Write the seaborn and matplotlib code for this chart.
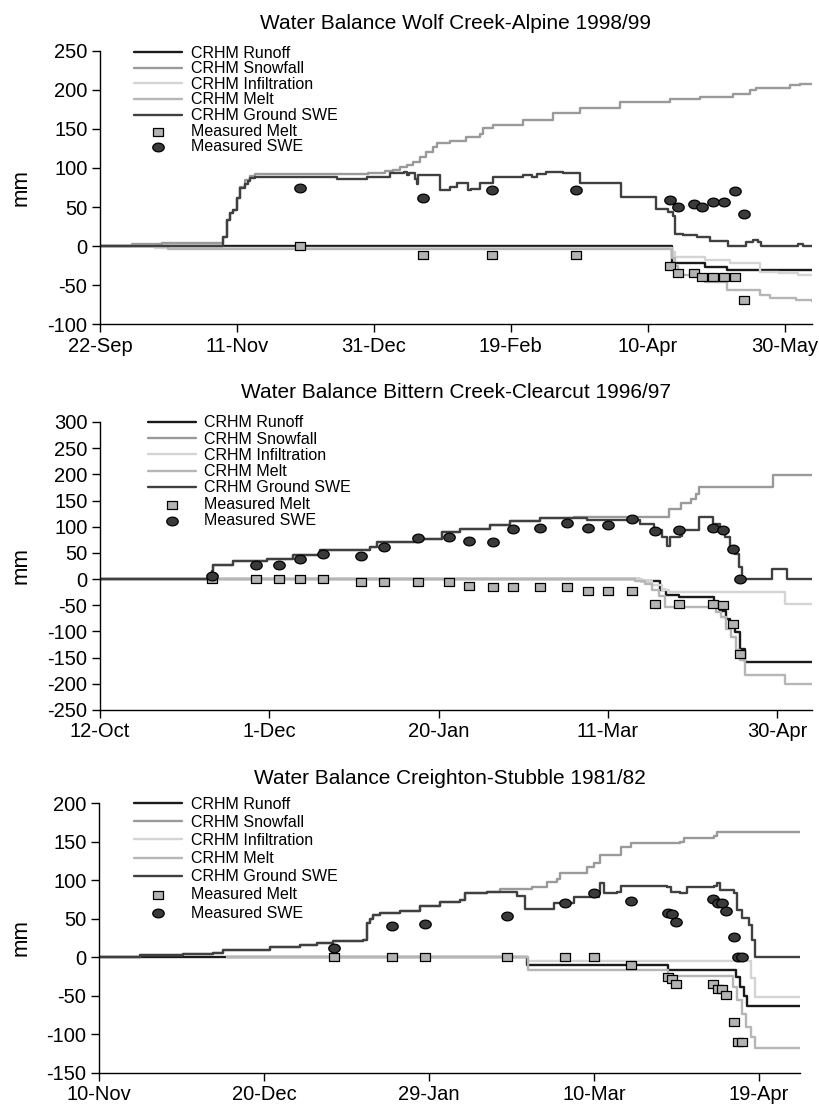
import numpy as np
import pandas as pd
import matplotlib
matplotlib.use("Agg")
import matplotlib.pyplot as plt
import matplotlib.dates as mdates
from matplotlib.path import Path
import seaborn as sns

# ---------------- Wolf Creek-Alpine 1998/99 (days after 22 Sep 1998) ----------------
wc_start = "1998-09-22"
wc_end_day = 260
wc_ticks = ["1998-09-22", "1998-11-11", "1998-12-31", "1999-02-19", "1999-04-10", "1999-05-30"]

wc_runoff_day = [0, 209, 221, 229, 260]
wc_runoff_mm = [0, -22, -27, -31, -31]

wc_snow_day = [0, 11.7, 22.6, 45, 46.2, 47.4, 48.5, 49.9, 51.1, 52.9, 54.7, 56.6, 86.5, 98, 104,
               107, 109.5, 112, 114.4, 116.8, 119, 121.7, 122.9, 127.7, 133.8, 138.7, 139.9, 143.5,
               154.5, 165.5, 175.2, 189.8, 208.1, 219, 231.1, 237.2, 239.7, 251.8, 255.5, 260]
wc_snow_mm = [0, 2, 4, 12, 33, 42, 46, 61, 76, 84, 90, 92, 92, 94, 96,
              98, 101, 104, 108, 114, 120, 127, 132, 134, 140, 144, 151, 155,
              162, 171, 177, 184, 188, 191, 195, 200, 203, 206, 208, 208]

wc_infil_day = [0, 20, 209, 210, 220.8, 229.9, 240.9, 248, 255, 260]
wc_infil_mm = [0, -3, -8, -14, -18, -22, -33, -35, -37, -37]

wc_melt_day = [0, 25, 209, 210, 211, 221, 229, 241, 244.5, 254, 260]
wc_melt_mm = [0, -4, -15, -25, -37, -46, -56, -63, -67, -69, -70]

wc_swe_day = [0, 45, 46.2, 47.4, 48.5, 49.9, 51.1, 52.9, 54, 54.7, 56.6, 86.5, 97.4, 106, 111,
              112, 113, 115, 115.6, 116.2, 124, 127.7, 130.2, 134.4, 135.5, 138.7, 143.5, 154.5,
              157.6, 159.4, 163, 169.1, 175.2, 190.4, 203.2, 207.5, 209.2, 209.9, 212.9, 218,
              222.6, 229.3, 236, 238.4, 240.3, 241.5, 254.9, 256.7, 260]
wc_swe_mm = [0, 12, 33, 42, 46, 61, 74, 80, 83, 87, 89, 86, 88, 93, 95,
             91, 94, 86, 80, 91, 72, 76, 81, 72, 73, 81, 88, 91,
             88, 92, 95, 93, 81, 63, 47, 44, 38, 16, 14, 11,
             7, 0, 5, 8, 5, 0, 2, 0, 0]

wc_meas_day = [73, 118, 143, 174, 208, 211, 217, 220, 224, 228, 232, 235]
wc_meas_melt = [0, -12, -12, -12, -25, -34, -34, -40, -40, -40, -40, -69]
wc_meas_swe = [75, 62, 72, 72, 59, 50, 54, 50, 57, 57, 70, 41]

# ---------------- Bittern Creek-Clearcut 1996/97 (days after 12 Oct 1996) ----------------
bc_start = "1996-10-12"
bc_end_day = 210.3
bc_ticks = ["1996-10-12", "1996-12-01", "1997-01-20", "1997-03-11", "1997-04-30"]

bc_runoff_day = [0, 159.5, 165.4, 167.2, 171, 181.4, 183, 184.9, 186, 187.6, 189, 190.5, 210.3]
bc_runoff_mm = [0, -4, -20, -30, -35, -44, -60, -76, -88, -101, -134, -158, -158]

bc_snow_day = [0, 32, 33, 33.4, 39.3, 49.3, 57, 65, 79.8, 81.8, 94, 100.9, 106.4, 115.2, 121.1,
               130, 140, 168.1, 171.5, 174.5, 176, 177, 198.9, 210.3]
bc_snow_mm = [0, 4, 15, 27, 34, 39, 46, 55, 61, 71, 77, 90, 96, 104, 111,
              117, 119, 134, 146, 153, 162, 176, 198, 198]

bc_infil_day = [0, 160, 163, 166, 168, 202.4, 210.3]
bc_infil_mm = [0, -4, -12, -20, -25, -47, -47]

bc_melt_day = [0, 158, 161, 163, 165, 167, 180.2, 182, 183.5, 185, 186.5, 188, 189, 190.5, 202.4, 210.3]
bc_melt_mm = [0, -3, -10, -20, -33, -53, -53, -62, -72, -95, -110, -136, -155, -183, -200, -200]

bc_swe_day = [0, 32, 33, 33.4, 39.3, 49.3, 57, 65, 79.8, 81.8, 94, 100.9, 106.4, 115.2, 121.1,
              130, 143.8, 157.6, 159.5, 163.5, 165.9, 167.4, 168.4, 171.3, 171.8, 176.8, 179.7,
              181.2, 183.2, 184.6, 186.1, 187.6, 188.6, 189.6, 198.4, 202.9, 210.3]
bc_swe_mm = [0, 4, 15, 27, 34, 39, 46, 55, 61, 71, 77, 90, 96, 104, 111,
             117, 113, 113, 106, 93, 80, 64, 80, 83, 93, 118, 118,
             106, 96, 80, 61, 48, 23, 0, 19, 0, 0]

bc_meas_day = [33, 46, 53, 59, 66, 77, 84, 94, 103, 109, 116, 122, 130, 138, 144, 150, 157, 164,
               171, 181, 184, 187, 189]
bc_meas_melt = [0, 0, 0, 0, 0, -6, -6, -6, -5, -13, -15, -15, -15, -15, -23, -23, -23, -47,
                -47, -47, -50, -86, -143]
bc_meas_swe = [6, 27, 27, 38, 47, 44, 62, 79, 80, 73, 71, 95, 97, 108, 97, 104, 115, 91,
               94, 97, 94, 57, 0]

# ---------------- Creighton-Stubble 1981/82 (days after 10 Nov 1981) ----------------
cs_start = "1981-11-10"
cs_end_day = 170
cs_ticks = ["1981-11-10", "1981-12-20", "1982-01-29", "1982-03-10", "1982-04-19"]

cs_runoff_day = [0, 103.8, 138, 154.5, 155.5, 156.3, 157.2, 170]
cs_runoff_mm = [0, -10, -16, -25, -38, -50, -63, -63]

cs_snow_day = [0, 5.8, 10, 20.4, 27.7, 30.1, 41.5, 48.8, 52.9, 56.8, 64.1, 65, 65.8, 66.5, 68.2,
               73.1, 77.9, 82.8, 87.6, 88.8, 94.1, 97.3, 105, 108.7, 111.1, 111.9, 118.4, 120,
               121.6, 126.5, 128.9, 141, 141.8, 149.1, 149.9, 170]
cs_snow_mm = [0, 1, 2.5, 4, 6, 9, 13, 15.5, 18.5, 21, 23, 44, 50, 55, 57,
              60, 67, 72, 74, 83, 85, 89, 91, 98, 102, 109, 117, 122,
              132, 143, 148, 150, 155, 157, 163, 163]

cs_infil_day = [31, 104, 158, 159, 170]
cs_infil_mm = [0, -5, -27, -52, -52]

cs_melt_day = [31, 104, 138, 153.8, 154.8, 156, 157, 158, 159, 170]
cs_melt_mm = [0, -16, -24, -38, -56, -73, -90, -103, -117, -117]

cs_swe_day = [0, 5.8, 10, 20.4, 27.7, 30.1, 41.5, 48.8, 52.9, 56.8, 64.1, 65, 65.8, 66.5, 68.2,
              73.1, 77.9, 82.8, 87.6, 88.8, 94.1, 101.4, 103.4, 107, 110.3, 115.1, 121.2, 121.6,
              122.4, 125.6, 126.5, 137.8, 138.6, 141, 142.6, 149.1, 149.9, 150.7, 154, 154.8,
              156, 157.6, 158.4, 159.2, 170]
cs_swe_mm = [0, 1, 2.5, 4, 6, 9, 13, 15.5, 18.5, 21, 23, 44, 50, 55, 57,
             60, 67, 72, 74, 83, 85, 80, 63, 63, 70, 78, 83, 96,
             83, 85, 92, 91, 85, 83, 91, 93, 96, 87, 83, 61,
             51, 42, 22, 0, 0]

cs_meas_day = [57, 71, 79, 99, 113, 120, 129, 138, 139, 140, 149, 150, 151, 152, 154, 155, 156]
cs_meas_melt = [0, 0, 0, 0, 0, 0, -10, -26, -28, -35, -35, -41, -41, -49, -84, -110, -110]
cs_meas_swe = [12, 40, 43, 53, 70, 83, 73, 58, 56, 46, 75, 70, 70, 60, 26, 1, 1]

# ---------------- styling ----------------
sns.set_theme(style="ticks")
plt.rcParams["font.family"] = ["Liberation Sans", "DejaVu Sans"]
plt.rcParams["axes.unicode_minus"] = False
plt.rcParams["axes.edgecolor"] = "black"
plt.rcParams["xtick.color"] = "black"
plt.rcParams["ytick.color"] = "black"
plt.rcParams["text.color"] = "black"
plt.rcParams["axes.labelcolor"] = "black"

C_RUNOFF = "#1a1a1a"
C_SNOW = "#9a9a9a"
C_INFIL = "#d4d4d4"
C_MELT = "#b6b6b6"
C_SWE = "#404040"
C_MEAS_MELT = "#b3b3b3"
C_MEAS_SWE = "#3a3a3a"
LW = 1.7

# slightly wide box and ellipse markers for the measurements
box_marker = Path([(-0.6, -0.5), (0.6, -0.5), (0.6, 0.5), (-0.6, 0.5), (-0.6, -0.5)],
                  [Path.MOVETO, Path.LINETO, Path.LINETO, Path.LINETO, Path.CLOSEPOLY])
theta = np.linspace(0, 2 * np.pi, 60)
ellipse_marker = Path(np.column_stack([0.66 * np.cos(theta), 0.5 * np.sin(theta)]))


def to_dates(start, days):
    return pd.Timestamp(start) + pd.to_timedelta(np.asarray(days, dtype=float), unit="D")


def draw_panel(ax, title, start, end_day, ticks, series, meas_day, meas_melt, meas_swe,
               ylim, ystep, legend_anchor, legend_gap, title_pad):
    for label, color, days, vals in series:
        df = pd.DataFrame({"date": to_dates(start, days), "mm": vals})
        sns.lineplot(data=df, x="date", y="mm", ax=ax, color=color, lw=LW,
                     drawstyle="steps-post", estimator=None, sort=False, label=label)
    mdates_ = to_dates(start, meas_day)
    sns.scatterplot(x=mdates_, y=meas_melt, ax=ax, marker=box_marker, s=60,
                    color=C_MEAS_MELT, edgecolor="black", linewidth=0.9,
                    label="Measured Melt", zorder=5)
    sns.scatterplot(x=mdates_, y=meas_swe, ax=ax, marker=ellipse_marker, s=68,
                    color=C_MEAS_SWE, edgecolor="black", linewidth=0.9,
                    label="Measured SWE", zorder=6)

    ax.set_xlim(pd.Timestamp(start), pd.Timestamp(start) + pd.Timedelta(days=end_day))
    ax.set_xticks(pd.to_datetime(ticks))
    ax.xaxis.set_major_formatter(mdates.DateFormatter("%-d-%b"))
    ax.set_ylim(*ylim)
    ax.set_yticks(np.arange(ylim[0], ylim[1] + 1, ystep))
    ax.set_xlabel("")
    ax.set_ylabel("mm", fontsize=16)
    ax.yaxis.set_label_coords(-0.096, 0.5)
    ax.set_title(title, fontsize=15, pad=title_pad)
    ax.tick_params(axis="both", direction="out", length=6, width=1, labelsize=14.5, pad=3)
    sns.despine(ax=ax)
    for sp in ("left", "bottom"):
        ax.spines[sp].set_linewidth(1.0)

    handles, labels = ax.get_legend_handles_labels()
    ax.legend(handles, labels, loc="upper left", bbox_to_anchor=legend_anchor,
              frameon=False, fontsize=11.5, handlelength=3.0, handletextpad=0.55,
              borderpad=0, borderaxespad=0, labelspacing=legend_gap,
              numpoints=1, scatterpoints=1)


fig = plt.figure(figsize=(8.2, 11.06), dpi=100)
ax1 = fig.add_axes([0.12195, 0.70705, 0.86829, 0.24684])
ax2 = fig.add_axes([0.12195, 0.35805, 0.86829, 0.26040])
ax3 = fig.add_axes([0.12073, 0.02984, 0.85488, 0.24412])


def model_series(runoff, snow, infil, melt, swe):
    return [("CRHM Runoff", C_RUNOFF, *runoff),
            ("CRHM Snowfall", C_SNOW, *snow),
            ("CRHM Infiltration", C_INFIL, *infil),
            ("CRHM Melt", C_MELT, *melt),
            ("CRHM Ground SWE", C_SWE, *swe)]


draw_panel(ax1, "Water Balance Wolf Creek-Alpine 1998/99", wc_start, wc_end_day, wc_ticks,
           model_series((wc_runoff_day, wc_runoff_mm), (wc_snow_day, wc_snow_mm),
                        (wc_infil_day, wc_infil_mm), (wc_melt_day, wc_melt_mm),
                        (wc_swe_day, wc_swe_mm)),
           wc_meas_day, wc_meas_melt, wc_meas_swe,
           (-100, 250), 50, (0.048, 1.02), 0.04, 16)

draw_panel(ax2, "Water Balance Bittern Creek-Clearcut 1996/97", bc_start, bc_end_day, bc_ticks,
           model_series((bc_runoff_day, bc_runoff_mm), (bc_snow_day, bc_snow_mm),
                        (bc_infil_day, bc_infil_mm), (bc_melt_day, bc_melt_mm),
                        (bc_swe_day, bc_swe_mm)),
           bc_meas_day, bc_meas_melt, bc_meas_swe,
           (-250, 300), 50, (0.067, 1.023), 0.08, 17)

draw_panel(ax3, "Water Balance Creighton-Stubble 1981/82", cs_start, cs_end_day, cs_ticks,
           model_series((cs_runoff_day, cs_runoff_mm), (cs_snow_day, cs_snow_mm),
                        (cs_infil_day, cs_infil_mm), (cs_melt_day, cs_melt_mm),
                        (cs_swe_day, cs_swe_mm)),
           cs_meas_day, cs_meas_melt, cs_meas_swe,
           (-150, 200), 50, (0.05, 1.024), 0.2, 14)

fig.savefig("out.png", dpi=100)
